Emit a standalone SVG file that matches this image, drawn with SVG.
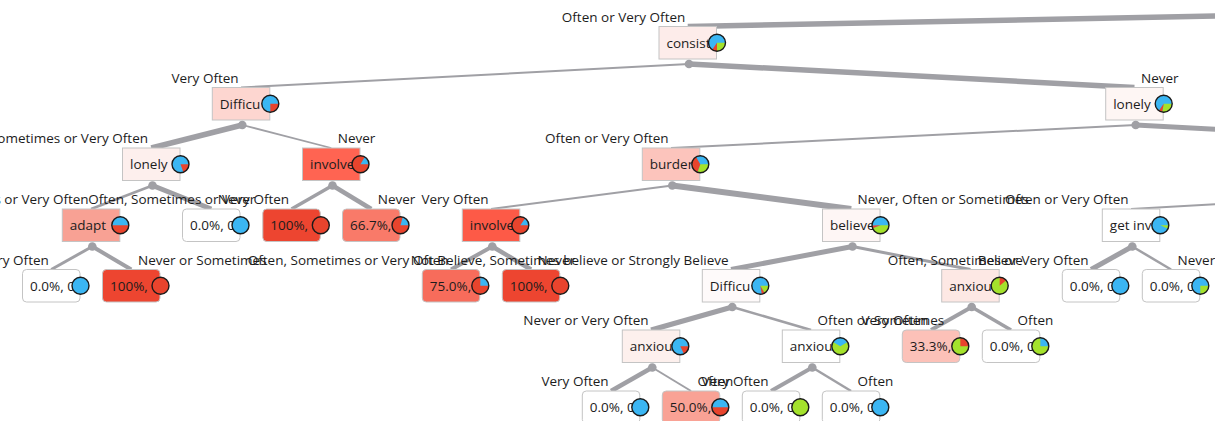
<svg xmlns="http://www.w3.org/2000/svg" width="1215" height="421" viewBox="0 0 1215 421">
<style>
.bg{fill:#ffffff}
.box{stroke:#c4c4c4;stroke-width:1}
.t{font-family:"Open Sans","Liberation Sans",sans-serif;font-size:13.5px;fill:#1c1c1c}
.e{stroke:#a0a0a5;fill:none}
.dot{fill:#a0a0a5}
.po{fill:none;stroke:#1a1a1a;stroke-width:1.4}
.b{fill:#3bb6f3}.r{fill:#e8442d}.g{fill:#a4e22c}
.end{text-anchor:end}
</style>
<defs>
<circle id="cb" r="8.5" class="b"/>
<circle id="cr" r="8.5" class="r"/>
<circle id="cg" r="8.5" class="g"/>
<circle id="co" r="8.5" class="po"/>
</defs>
<rect class="bg" width="1215" height="421"/>
<g id="connectors">
<line class="e" stroke-width="5.5" x1="1240" y1="15.5" x2="687.75" y2="26.5"/>
<line class="e" stroke-width="2" x1="689" y1="64" x2="241.05" y2="87.5"/>
<line class="e" stroke-width="5.5" x1="689" y1="64" x2="1134.45" y2="87.5"/>
<line class="e" stroke-width="5.5" x1="242.3" y1="125" x2="151.25" y2="148"/>
<line class="e" stroke-width="1.8" x1="242.3" y1="125" x2="331.25" y2="148"/>
<line class="e" stroke-width="2.5" x1="152.5" y1="185.5" x2="91.05" y2="209"/>
<line class="e" stroke-width="5" x1="152.5" y1="185.5" x2="211.25" y2="209"/>
<line class="e" stroke-width="3.5" x1="332.5" y1="185.5" x2="291.55" y2="209"/>
<line class="e" stroke-width="4.5" x1="332.5" y1="185.5" x2="371.25" y2="209"/>
<line class="e" stroke-width="3" x1="92.3" y1="246.5" x2="51.25" y2="269.5"/>
<line class="e" stroke-width="4" x1="92.3" y1="246.5" x2="131.25" y2="269.5"/>
<line class="e" stroke-width="2" x1="1135.7" y1="125" x2="671.05" y2="148"/>
<line class="e" stroke-width="5" x1="1135.7" y1="125" x2="1240" y2="130.7"/>
<line class="e" stroke-width="2" x1="672.3" y1="185.5" x2="491.05" y2="209"/>
<line class="e" stroke-width="6" x1="672.3" y1="185.5" x2="851.25" y2="209"/>
<line class="e" stroke-width="4" x1="492.3" y1="246.5" x2="451.05" y2="269.5"/>
<line class="e" stroke-width="4.5" x1="492.3" y1="246.5" x2="531.05" y2="269.5"/>
<line class="e" stroke-width="5" x1="852.5" y1="246.5" x2="731.05" y2="269.5"/>
<line class="e" stroke-width="3" x1="852.5" y1="246.5" x2="970.45" y2="269.5"/>
<line class="e" stroke-width="2" x1="1240" y1="202.8" x2="1131.05" y2="209"/>
<line class="e" stroke-width="5" x1="1132.3" y1="246.5" x2="1091.05" y2="269.5"/>
<line class="e" stroke-width="2.5" x1="1132.3" y1="246.5" x2="1171.05" y2="269.5"/>
<line class="e" stroke-width="5" x1="732.3" y1="307" x2="651.05" y2="330"/>
<line class="e" stroke-width="2.5" x1="732.3" y1="307" x2="811.05" y2="330"/>
<line class="e" stroke-width="4" x1="971.7" y1="307" x2="931.05" y2="330"/>
<line class="e" stroke-width="3.5" x1="971.7" y1="307" x2="1011.05" y2="330"/>
<line class="e" stroke-width="4.5" x1="652.3" y1="367.5" x2="611.05" y2="391"/>
<line class="e" stroke-width="2" x1="652.3" y1="367.5" x2="691.05" y2="391"/>
<line class="e" stroke-width="4" x1="812.3" y1="367.5" x2="771.05" y2="391"/>
<line class="e" stroke-width="2.5" x1="812.3" y1="367.5" x2="851.05" y2="391"/>
</g>

<g id="n_consist" transform="translate(659,26.5)">
<rect class="box" width="57.5" height="32.5" fill="#fdecea"/>
<text class="t" x="7.5" y="21">consist</text>
<circle class="dot" cx="30" cy="37.5" r="4.3"/>
<g transform="translate(58,16.25)"><use href="#cb"/><path class="g" d="M0,0 L8.5,0 A8.5,8.5 0 0,1 0,8.5Z"/><path class="r" d="M0,0 L0,8.5 A8.5,8.5 0 0,1 -4.875,6.963Z"/><use href="#co"/></g>
<text class="t end" x="26.3" y="-5">Often or Very Often</text>
</g>

<g id="n_difficu1" transform="translate(212.3,87.5)">
<rect class="box" width="57.5" height="32.5" fill="#fdd6d0"/>
<text class="t" x="7.5" y="21">Difficu</text>
<circle class="dot" cx="30" cy="37.5" r="4.3"/>
<g transform="translate(58,16.25)"><use href="#cb"/><path class="r" d="M0,0 L8.5,0 A8.5,8.5 0 0,1 0,8.5Z"/><use href="#co"/></g>
<text class="t end" x="26.3" y="-5">Very Often</text>
</g>

<g id="n_lonely1" transform="translate(1105.7,87.5)">
<rect class="box" width="57.5" height="32.5" fill="#fef6f4"/>
<text class="t" x="7.5" y="21">lonely</text>
<circle class="dot" cx="30" cy="37.5" r="4.3"/>
<g transform="translate(58,16.25)"><use href="#cb"/><path class="g" d="M0,0 L8.5,0 A8.5,8.5 0 0,1 -1.476,8.371Z"/><path class="r" d="M0,0 L-1.476,8.371 A8.5,8.5 0 0,1 -4.875,6.963Z"/><use href="#co"/></g>
<text class="t" x="35.3" y="-5">Never</text>
</g>

<g id="n_lonely2" transform="translate(122.5,148)">
<rect class="box" width="57.5" height="32.5" fill="#fdefed"/>
<text class="t" x="7.5" y="21">lonely</text>
<circle class="dot" cx="30" cy="37.5" r="4.3"/>
<g transform="translate(58,16.25)"><use href="#cb"/><path class="r" d="M0,0 L8.5,0 A8.5,8.5 0 0,1 2.907,7.987Z"/><use href="#co"/></g>
<text class="t end" x="25.5" y="-5">Often, Sometimes or Very Often</text>
</g>

<g id="n_involve2" transform="translate(302.5,148)">
<rect class="box" width="57.5" height="32.5" fill="#ff6452"/>
<text class="t" x="7.5" y="21">involve</text>
<circle class="dot" cx="30" cy="37.5" r="4.3"/>
<g transform="translate(58,16.25)"><use href="#cr"/><path class="b" d="M0,0 L4.25,-7.361 A8.5,8.5 0 0,1 8.5,0Z"/><use href="#co"/></g>
<text class="t" x="35.3" y="-5">Never</text>
</g>

<g id="n_burden" transform="translate(642.3,148)">
<rect class="box" width="57.5" height="32.5" fill="#fcc4bc"/>
<text class="t" x="7.5" y="21">burden</text>
<circle class="dot" cx="30" cy="37.5" r="4.3"/>
<g transform="translate(58,16.25)"><use href="#cb"/><path class="g" d="M0,0 L8.5,0 A8.5,8.5 0 0,1 -2.907,7.987Z"/><path class="r" d="M0,0 L-2.907,7.987 A8.5,8.5 0 0,1 -4.25,-7.361Z"/><use href="#co"/></g>
<text class="t end" x="26.3" y="-5">Often or Very Often</text>
</g>

<g id="n_adapt" transform="translate(62.3,209)">
<rect class="box" width="57.5" height="32.5" fill="#f8a194"/>
<text class="t" x="7.5" y="21">adapt</text>
<circle class="dot" cx="30" cy="37.5" r="4.3"/>
<g transform="translate(58,16.25)"><use href="#cb"/><path class="r" d="M0,0 L8.5,0 A8.5,8.5 0 0,1 -8.5,0Z"/><use href="#co"/></g>
<text class="t end" x="26.3" y="-5">Often, Sometimes or Very Often</text>
</g>

<g id="n_leaf_a" transform="translate(182.5,209)">
<rect class="box" width="57.5" height="32.5" rx="4" fill="#ffffff"/>
<text class="t" x="7.5" y="21">0.0%, 0</text>
<g transform="translate(58,16.25)"><use href="#cb"/><use href="#co"/></g>
<text class="t" x="35.3" y="-5">Never</text>
</g>

<g id="n_leaf_b" transform="translate(262.8,209)">
<rect class="box" width="57.5" height="32.5" rx="4" fill="#ed4530"/>
<text class="t" x="7.5" y="21">100%,</text>
<g transform="translate(58,16.25)"><use href="#cr"/><use href="#co"/></g>
<text class="t end" x="26.3" y="-5">Often, Sometimes or Very Often</text>
</g>

<g id="n_leaf_c" transform="translate(342.5,209)">
<rect class="box" width="57.5" height="32.5" rx="4" fill="#f97a69"/>
<text class="t" x="7.5" y="21">66.7%,</text>
<g transform="translate(58,16.25)"><use href="#cr"/><path class="b" d="M0,0 L2.2,-8.21 A8.5,8.5 0 0,1 8.5,0Z"/><use href="#co"/></g>
<text class="t" x="35.3" y="-5">Never</text>
</g>

<g id="n_involve3" transform="translate(462.3,209)">
<rect class="box" width="57.5" height="32.5" fill="#fd5a47"/>
<text class="t" x="7.5" y="21">involve</text>
<circle class="dot" cx="30" cy="37.5" r="4.3"/>
<g transform="translate(58,16.25)"><use href="#cr"/><path class="b" d="M0,0 L4.875,-6.963 A8.5,8.5 0 0,1 8.5,0Z"/><use href="#co"/></g>
<text class="t end" x="26.3" y="-5">Very Often</text>
</g>

<g id="n_believe" transform="translate(822.5,209)">
<rect class="box" width="57.5" height="32.5" fill="#fef6f5"/>
<text class="t" x="7.5" y="21">believe</text>
<circle class="dot" cx="30" cy="37.5" r="4.3"/>
<g transform="translate(58,16.25)"><use href="#cb"/><path class="g" d="M0,0 L8.5,0 A8.5,8.5 0 0,1 -7.987,2.907Z"/><path class="r" d="M0,0 L-7.987,2.907 A8.5,8.5 0 0,1 -8.495,0.297Z"/><use href="#co"/></g>
<text class="t" x="35" y="-5">Never, Often or Sometimes</text>
</g>

<g id="n_getinv" transform="translate(1102.3,209)">
<rect class="box" width="57.5" height="32.5" fill="#ffffff"/>
<text class="t" x="7.5" y="21">get inv</text>
<circle class="dot" cx="30" cy="37.5" r="4.3"/>
<g transform="translate(58,16.25)"><use href="#cb"/><path class="g" d="M0,0 L8.5,0 A8.5,8.5 0 0,1 7.704,3.592Z"/><use href="#co"/></g>
<text class="t end" x="26.3" y="-5">Often or Very Often</text>
</g>

<g id="n_leaf_d" transform="translate(22.5,269.5)">
<rect class="box" width="57.5" height="32.5" rx="4" fill="#ffffff"/>
<text class="t" x="7.5" y="21">0.0%, 0</text>
<g transform="translate(58,16.25)"><use href="#cb"/><use href="#co"/></g>
<text class="t end" x="26.3" y="-5">Often or Very Often</text>
</g>

<g id="n_leaf_e" transform="translate(102.5,269.5)">
<rect class="box" width="57.5" height="32.5" rx="4" fill="#ed4530"/>
<text class="t" x="7.5" y="21">100%,</text>
<g transform="translate(58,16.25)"><use href="#cr"/><use href="#co"/></g>
<text class="t" x="35.5" y="-5">Never or Sometimes</text>
</g>

<g id="n_leaf_f" transform="translate(422.3,269.5)">
<rect class="box" width="57.5" height="32.5" rx="4" fill="#f76c5b"/>
<text class="t" x="7.5" y="21">75.0%,</text>
<g transform="translate(58,16.25)"><use href="#cr"/><path class="b" d="M0,0 L0,-8.5 A8.5,8.5 0 0,1 8.5,0Z"/><use href="#co"/></g>
<text class="t end" x="26.3" y="-5">Often, Sometimes or Very Often</text>
</g>

<g id="n_leaf_g" transform="translate(502.3,269.5)">
<rect class="box" width="57.5" height="32.5" rx="4" fill="#ed4530"/>
<text class="t" x="7.5" y="21">100%,</text>
<g transform="translate(58,16.25)"><use href="#cr"/><use href="#co"/></g>
<text class="t" x="35.3" y="-5">Never</text>
</g>

<g id="n_difficu4" transform="translate(702.3,269.5)">
<rect class="box" width="57.5" height="32.5" fill="#fefafa"/>
<text class="t" x="7.5" y="21">Difficu</text>
<circle class="dot" cx="30" cy="37.5" r="4.3"/>
<g transform="translate(58,16.25)"><use href="#cb"/><path class="g" d="M0,0 L8.5,0 A8.5,8.5 0 0,1 4.25,7.361Z"/><path class="r" d="M0,0 L4.25,7.361 A8.5,8.5 0 0,1 1.476,8.371Z"/><use href="#co"/></g>
<text class="t end" x="26.3" y="-5">Not Believe, Sometimes believe or Strongly Believe</text>
</g>

<g id="n_anxiou4" transform="translate(941.7,269.5)">
<rect class="box" width="57.5" height="32.5" fill="#fde8e4"/>
<text class="t" x="7.5" y="21">anxiou</text>
<circle class="dot" cx="30" cy="37.5" r="4.3"/>
<g transform="translate(58,16.25)"><use href="#cg"/><path class="r" d="M0,0 L0,-8.5 A8.5,8.5 0 0,1 6.511,-5.464Z"/><use href="#co"/></g>
<text class="t" x="36" y="-5">Believe</text>
</g>

<g id="n_leaf_h" transform="translate(1062.3,269.5)">
<rect class="box" width="57.5" height="32.5" rx="4" fill="#ffffff"/>
<text class="t" x="7.5" y="21">0.0%, 0</text>
<g transform="translate(58,16.25)"><use href="#cb"/><use href="#co"/></g>
<text class="t end" x="26.3" y="-5">Often, Sometimes or Very Often</text>
</g>

<g id="n_leaf_i" transform="translate(1142.3,269.5)">
<rect class="box" width="57.5" height="32.5" rx="4" fill="#ffffff"/>
<text class="t" x="7.5" y="21">0.0%, 0</text>
<g transform="translate(58,16.25)"><use href="#cb"/><path class="g" d="M0,0 L8.5,0 A8.5,8.5 0 0,1 0,8.5Z"/><use href="#co"/></g>
<text class="t" x="35.3" y="-5">Never</text>
</g>

<g id="n_anxiou5a" transform="translate(622.3,330)">
<rect class="box" width="57.5" height="32.5" fill="#fdf0ed"/>
<text class="t" x="7.5" y="21">anxiou</text>
<circle class="dot" cx="30" cy="37.5" r="4.3"/>
<g transform="translate(58,16.25)"><use href="#cb"/><path class="r" d="M0,0 L8.5,0 A8.5,8.5 0 0,1 3.592,7.704Z"/><use href="#co"/></g>
<text class="t end" x="26.3" y="-5">Never or Very Often</text>
</g>

<g id="n_anxiou5b" transform="translate(782.3,330)">
<rect class="box" width="57.5" height="32.5" fill="#ffffff"/>
<text class="t" x="7.5" y="21">anxiou</text>
<circle class="dot" cx="30" cy="37.5" r="4.3"/>
<g transform="translate(58,16.25)"><use href="#cg"/><path class="b" d="M0,0 L-7.361,-4.25 A8.5,8.5 0 0,1 7.361,-4.25Z"/><use href="#co"/></g>
<text class="t" x="35.3" y="-5">Often or Sometimes</text>
</g>

<g id="n_leaf_j" transform="translate(902.3,330)">
<rect class="box" width="57.5" height="32.5" rx="4" fill="#fcc1b8"/>
<text class="t" x="7.5" y="21">33.3%,</text>
<g transform="translate(58,16.25)"><use href="#cg"/><path class="r" d="M0,0 L0,-8.5 A8.5,8.5 0 0,1 8.5,0Z"/><use href="#co"/></g>
<text class="t end" x="26.3" y="-5">Very Often</text>
</g>

<g id="n_leaf_k" transform="translate(982.3,330)">
<rect class="box" width="57.5" height="32.5" rx="4" fill="#ffffff"/>
<text class="t" x="7.5" y="21">0.0%, 0</text>
<g transform="translate(58,16.25)"><use href="#cg"/><path class="b" d="M0,0 L0,-8.5 A8.5,8.5 0 0,1 8.5,0Z"/><use href="#co"/></g>
<text class="t" x="35.3" y="-5">Often</text>
</g>

<g id="n_leaf_l" transform="translate(582.3,391)">
<rect class="box" width="57.5" height="32.5" rx="4" fill="#ffffff"/>
<text class="t" x="7.5" y="21">0.0%, 0</text>
<g transform="translate(58,16.25)"><use href="#cb"/><use href="#co"/></g>
<text class="t end" x="26.3" y="-5">Very Often</text>
</g>

<g id="n_leaf_m" transform="translate(662.3,391)">
<rect class="box" width="57.5" height="32.5" rx="4" fill="#f9a295"/>
<text class="t" x="7.5" y="21">50.0%,</text>
<g transform="translate(58,16.25)"><use href="#cb"/><path class="r" d="M0,0 L8.5,0 A8.5,8.5 0 0,1 -8.5,0Z"/><use href="#co"/></g>
<text class="t" x="35.3" y="-5">Often</text>
</g>

<g id="n_leaf_n" transform="translate(742.3,391)">
<rect class="box" width="57.5" height="32.5" rx="4" fill="#ffffff"/>
<text class="t" x="7.5" y="21">0.0%, 0</text>
<g transform="translate(58,16.25)"><use href="#cg"/><use href="#co"/></g>
<text class="t end" x="26.3" y="-5">Very Often</text>
</g>

<g id="n_leaf_o" transform="translate(822.3,391)">
<rect class="box" width="57.5" height="32.5" rx="4" fill="#ffffff"/>
<text class="t" x="7.5" y="21">0.0%, 0</text>
<g transform="translate(58,16.25)"><use href="#cb"/><use href="#co"/></g>
<text class="t" x="35.3" y="-5">Often</text>
</g>
</svg>
